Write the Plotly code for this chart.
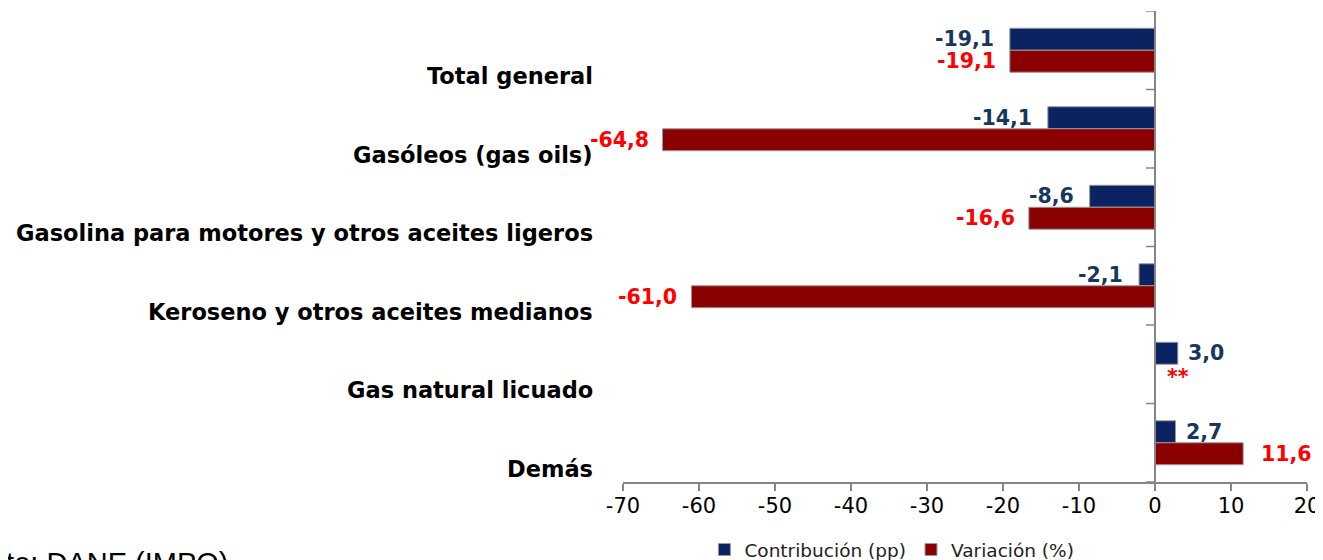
import plotly.graph_objects as go

categorias = ["Total general", "Gasóleos (gas oils)",
              "Gasolina para motores y otros aceites ligeros",
              "Keroseno y otros aceites medianos",
              "Gas natural licuado", "Demás"]
contribucion = [-19.1, -14.1, -8.6, -2.1, 3.0, 2.7]
variacion = [-19.1, -64.8, -16.6, -61.0, None, 11.6]
variacion_texto = ["-19,1", "-64,8", "-16,6", "-61,0", "**", "11,6"]
contribucion_texto = ["-19,1", "-14,1", "-8,6", "-2,1", "3,0", "2,7"]
x_ticks = [-70, -60, -50, -40, -30, -20, -10, 0, 10, 20]

BLUE = "#0c2362"
RED = "#8b0000"
pos = list(range(len(categorias)))

fig = go.Figure()
fig.add_trace(go.Bar(y=pos, x=contribucion, orientation="h", name="Contribución (pp)",
                     marker=dict(color=BLUE, line=dict(color="#9a9a9a", width=1))))
fig.add_trace(go.Bar(y=pos, x=[v if v is not None else 0 for v in variacion], orientation="h",
                     name="Variación (%)",
                     marker=dict(color=RED, line=dict(color="#9a9a9a", width=1))))

ann = []
for i, c in enumerate(categorias):
    ann.append(dict(x=0, y=i, xref="x", yref="y", text="<b>%s</b>" % c, showarrow=False,
                    xanchor="right", yanchor="middle", xshift=-560, yshift=-26,
                    font=dict(family="DejaVu Sans", size=22.5, color="black")))
for i, (v, t) in enumerate(zip(contribucion, contribucion_texto)):
    ann.append(dict(x=v, y=i - 0.14, xref="x", yref="y", text="<b>%s</b>" % t, showarrow=False,
                    xanchor="right" if v < 0 else "left", xshift=-14 if v < 0 else 8,
                    font=dict(family="DejaVu Sans", size=20.5, color="#17375e")))
for i, (v, t) in enumerate(zip(variacion, variacion_texto)):
    xv = v if v is not None else 0
    ann.append(dict(x=xv, y=i + 0.14, xref="x", yref="y", text="<b>%s</b>" % t, showarrow=False,
                    xanchor="right" if xv < 0 else "left",
                    xshift=(-12 if xv < 0 else 16) if v is not None else 10,
                    yshift=0 if v is not None else -2,
                    font=dict(family="DejaVu Sans", size=20.5, color="#ff0000")))
ann.append(dict(x=-1.0015, y=-0.1728, xref="paper", yref="paper", text="Fuente: DANE (IMPO)",
                showarrow=False, xanchor="left", yanchor="middle",
                font=dict(family="Liberation Sans", size=29, color="black")))

shapes = [dict(type="line", xref="x", yref="y", x0=0, x1=0, y0=-0.5, y1=5.5,
               line=dict(color="#868686", width=2))]
for b in [k - 0.5 for k in range(len(categorias) + 1)]:
    shapes.append(dict(type="line", xref="x", yref="y", xsizemode="pixel", xanchor=0,
                       x0=-9, x1=0, y0=b, y1=b, line=dict(color="#868686", width=1.5)))

fig.update_layout(
    width=1315, height=552,
    margin=dict(l=615, r=16, t=3, b=78, autoexpand=False),
    plot_bgcolor="white", paper_bgcolor="white",
    barmode="group", bargap=0.44, bargroupgap=0,
    showlegend=True,
    legend=dict(orientation="h", x=0.119, xanchor="left", y=-0.104, yanchor="top",
                font=dict(family="DejaVu Sans", size=18.5, color="#222"),
                itemwidth=30, traceorder="normal"),
    annotations=ann, shapes=shapes,
    xaxis=dict(range=[-70, 20], tickvals=x_ticks, ticktext=[str(t) for t in x_ticks],
               showgrid=False, zeroline=False, showline=True, linecolor="#868686", linewidth=2,
               ticks="outside", ticklen=7, tickcolor="#868686", tickwidth=1.5, automargin=False,
               ticklabelstandoff=-3, ticklabeloverflow="allow",
               tickfont=dict(family="DejaVu Sans", size=21, color="black")),
    yaxis=dict(range=[5.5, -0.5], showticklabels=False, showgrid=False, zeroline=False,
               showline=False, ticks="", automargin=False),
)
fig.write_html("out.html",
               post_script="document.documentElement.style.overflow='hidden';"
                           "document.body.style.overflow='hidden';")
